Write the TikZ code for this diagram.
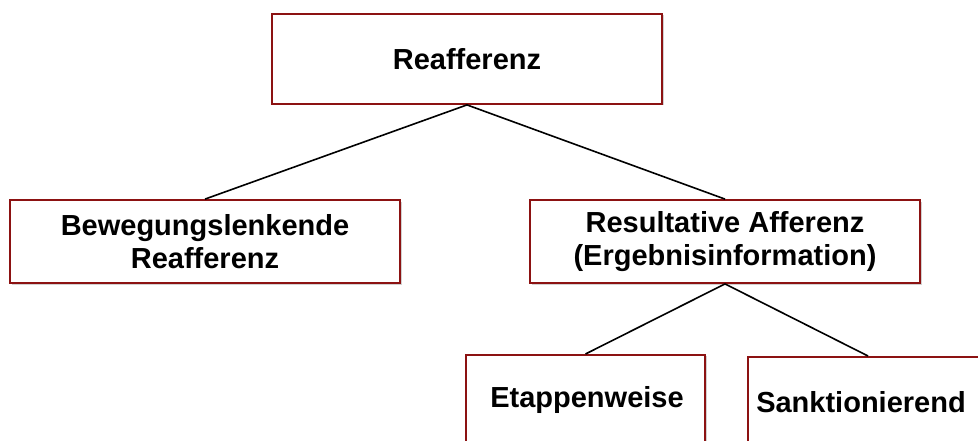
\documentclass[tikz,border=0pt]{standalone}
\usepackage{fontspec}
\setmainfont{Liberation Sans}
\begin{document}
\begin{tikzpicture}[x=1pt,y=-1pt,
  box/.style={draw=boxred, line width=1.8pt, fill=white, inner sep=0pt,
    align=center, font=\bfseries\fontsize{29}{33}\selectfont},
  shade/.style={fill=black!18, draw=none},
  lbl/.style={inner sep=0pt, align=center, font=\bfseries\fontsize{29}{33}\selectfont},
  link/.style={draw=black, line width=1.6pt}]
\definecolor{boxred}{RGB}{140,18,18}
\useasboundingbox (0,0) rectangle (978,441);
\clip (0,0) rectangle (978,441);
\fill[white] (0,0) rectangle (978,441);

% light shadows behind the boxes
\fill[shade] (274,15) rectangle (664,105);
\fill[shade] (12,202) rectangle (402,285);
\fill[shade] (532,202) rectangle (922,285);
\fill[shade] (468,356) rectangle (707,470);
\fill[shade] (750,358) rectangle (990,470);

% boxes
\node[box, minimum width=390, minimum height=90] (top) at (467,59) {Reafferenz};
\node[box, minimum width=390, minimum height=83] (left) at (205,241.5)
  {Bewegungslenkende\\Reafferenz};
\node[box, minimum width=390, minimum height=83] (right) at (725,241.5)
  {Resultative Afferenz\\(Ergebnisinformation)};
\node[box, minimum width=239, minimum height=110, anchor=north] (etap) at (585.5,354) {};
\node[box, minimum width=240, minimum height=110, anchor=north] (sank) at (868,356) {};
\node[lbl] (etapT) at (587,400) {Etappenweise};
\node[lbl] (sankT) at (861,402) {Sanktionierend};

% connectors
\draw[link] (top.south) -- (left.north);
\draw[link] (top.south) -- (right.north);
\draw[link] (right.south) -- (etap.north);
\draw[link] (right.south) -- (sank.north);
\end{tikzpicture}
\end{document}
